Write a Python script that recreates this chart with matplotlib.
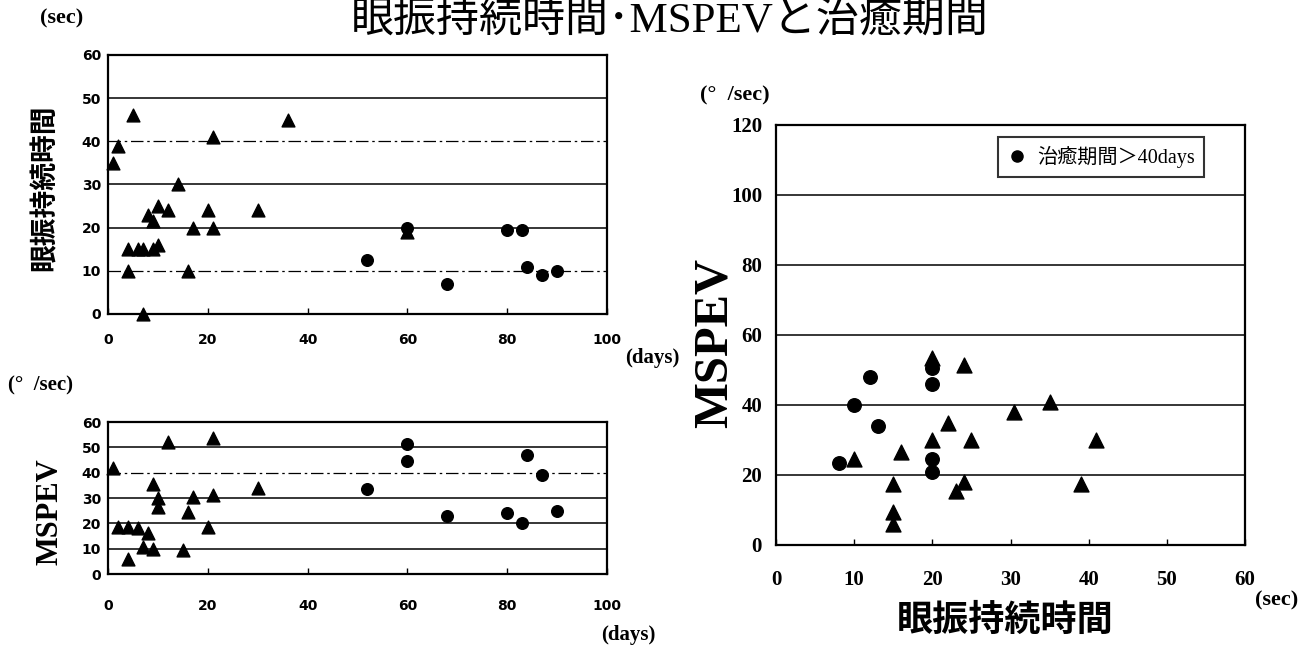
import matplotlib
matplotlib.use("Agg")
import matplotlib.pyplot as plt
from matplotlib.font_manager import FontProperties
from matplotlib.lines import Line2D

# --- data ---
# top-left: 眼振持続時間 (sec) vs days
top_tri_days = [1, 2, 5, 4, 6, 7, 9, 10, 4, 7, 8, 9, 10, 12, 14, 16, 17, 20, 21, 21, 30, 36, 60]
top_tri_sec = [35, 39, 46, 15, 15, 15, 15, 16, 10, 0, 23, 21.5, 25, 24, 30, 10, 20, 24, 41, 20, 24, 45, 19]
top_dot_days = [52, 60, 68, 80, 83, 84, 87, 90]
top_dot_sec = [12.5, 20, 7, 19.5, 19.5, 11, 9, 10]

# bottom-left: MSPEV vs days
bot_tri_days = [1, 2, 4, 6, 8, 7, 9, 4, 9, 10, 10, 12, 15, 16, 17, 20, 21, 21, 30]
bot_tri_mspev = [42, 18.5, 18.5, 18, 16, 10.5, 10, 6, 35.5, 30, 26.5, 52, 9.5, 24.5, 30.5, 18.5, 53.5, 31, 34]
bot_dot_days = [52, 60, 60, 68, 80, 83, 84, 87, 90]
bot_dot_mspev = [33.5, 51.5, 44.5, 23, 24, 20, 47, 39, 25]

# right: MSPEV vs 眼振持続時間
r_dot_sec = [8, 10, 12, 13, 20, 20, 20, 20]
r_dot_mspev = [23.5, 40, 48, 34, 50.5, 46, 24.5, 21]
r_tri_sec = [10, 16, 15, 15, 15, 20, 20, 22, 24, 25, 24, 23, 30.5, 35, 39, 41]
r_tri_mspev = [24.5, 26.5, 17.5, 9.5, 6, 53.5, 30, 35, 51.5, 30, 18, 15.5, 38, 41, 17.5, 30]

legend_label = "治癒期間＞40days"

W, H = 1309, 647
fig = plt.figure(figsize=(W / 100, H / 100), dpi=100)

narrow = FontProperties(family=["Liberation Sans Narrow", "DejaVu Sans"], weight="bold", size=10)
serif_tick = FontProperties(family="Liberation Serif", weight="bold", size=15)


def style_axes(ax, fp, pad_x, pad_y, dashed=()):
    for s in ax.spines.values():
        s.set_linewidth(1.6)
        s.set_color("black")
    ax.tick_params(axis="x", direction="in", length=4, width=1, pad=pad_x)
    ax.tick_params(axis="y", length=0, pad=pad_y)
    ax.yaxis.grid(True, color="black", linewidth=1.1)
    for lbl in ax.get_xticklabels() + ax.get_yticklabels():
        lbl.set_fontproperties(fp)
    ticks = ax.get_yticks()
    for t, gl in zip(ticks, ax.get_ygridlines()):
        if t in dashed:
            gl.set_linestyle((0, (10, 3, 2, 3)))
            gl.set_linewidth(0.9)
    ax.set_axisbelow(True)


# top-left
ax1 = fig.add_axes([108 / W, 1 - 314 / H, 499 / W, 259 / H])
ax1.scatter(top_tri_days, top_tri_sec, marker="^", s=85, color="black", clip_on=False, zorder=3)
ax1.scatter(top_dot_days, top_dot_sec, marker="o", s=70, color="black", clip_on=False, zorder=3)
ax1.set_xlim(0, 100)
ax1.set_ylim(0, 60)
ax1.set_xticks(range(0, 101, 20))
ax1.set_yticks(range(0, 61, 10))
style_axes(ax1, narrow, 14, 5, dashed=(10, 40))

# bottom-left
ax2 = fig.add_axes([108 / W, 1 - 574 / H, 499 / W, 152 / H])
ax2.scatter(bot_tri_days, bot_tri_mspev, marker="^", s=85, color="black", clip_on=False, zorder=3)
ax2.scatter(bot_dot_days, bot_dot_mspev, marker="o", s=70, color="black", clip_on=False, zorder=3)
ax2.set_xlim(0, 100)
ax2.set_ylim(0, 60)
ax2.set_xticks(range(0, 101, 20))
ax2.set_yticks(range(0, 61, 10))
style_axes(ax2, narrow, 18, 5, dashed=(40,))

# right
ax3 = fig.add_axes([776 / W, 1 - 545 / H, 469 / W, 420 / H])
ax3.scatter(r_tri_sec, r_tri_mspev, marker="^", s=115, color="black", zorder=3)
ax3.scatter(r_dot_sec, r_dot_mspev, marker="o", s=95, color="black", zorder=3)
ax3.set_xlim(0, 60)
ax3.set_ylim(0, 120)
ax3.set_xticks(range(0, 61, 10))
ax3.set_yticks(range(0, 121, 20))
style_axes(ax3, serif_tick, 18, 10)

leg_fp = FontProperties(family=["Liberation Serif", "Noto Sans CJK JP"], size=14.5)
handle = Line2D([], [], marker="o", color="black", linestyle="none", markersize=8)
leg = ax3.legend([handle], [legend_label], loc="upper right", bbox_to_anchor=(0.912, 0.972),
                 prop=leg_fp, frameon=True, fancybox=False, handletextpad=0.5,
                 borderpad=0.45, handlelength=1.0, borderaxespad=0.0)
leg.get_frame().set_edgecolor("black")
leg.get_frame().set_linewidth(1.5)

# --- texts ---
fig.text(670 / W, 1 - 21 / H, "眼振持続時間･MSPEVと治癒期間",
         family=["Liberation Serif", "Noto Sans CJK JP"], fontsize=31, ha="center", va="center")
bold_serif = dict(family="Liberation Serif", weight="bold")
fig.text(62 / W, 1 - 18 / H, "(sec)", fontsize=16, ha="center", va="center", **bold_serif)
fig.text(45 / W, 1 - 188 / H, "眼振持続時間", family=["Noto Sans CJK JP"], weight="bold",
         fontsize=20, rotation=90, ha="center", va="center")
fig.text(652 / W, 1 - 358 / H, "(days)", fontsize=15, ha="center", va="center", **bold_serif)
fig.text(8 / W, 1 - 385 / H, "(°  /sec)", fontsize=15, ha="left", va="center", **bold_serif)
fig.text(50 / W, 1 - 512 / H, "MSPEV", fontsize=22, rotation=90, ha="center", va="center", **bold_serif)
fig.text(628 / W, 1 - 635 / H, "(days)", fontsize=15, ha="center", va="center", **bold_serif)
fig.text(700 / W, 1 - 95 / H, "(°  /sec)", fontsize=16, ha="left", va="center", **bold_serif)
fig.text(715 / W, 1 - 343 / H, "MSPEV", fontsize=35, rotation=90, ha="center", va="center", **bold_serif)
fig.text(1005 / W, 1 - 620 / H, "眼振持続時間", family=["Noto Sans CJK JP"], weight="bold",
         fontsize=26, ha="center", va="center")
fig.text(1277 / W, 1 - 600 / H, "(sec)", fontsize=16, ha="center", va="center", **bold_serif)

fig.savefig("out.png", dpi=100)
